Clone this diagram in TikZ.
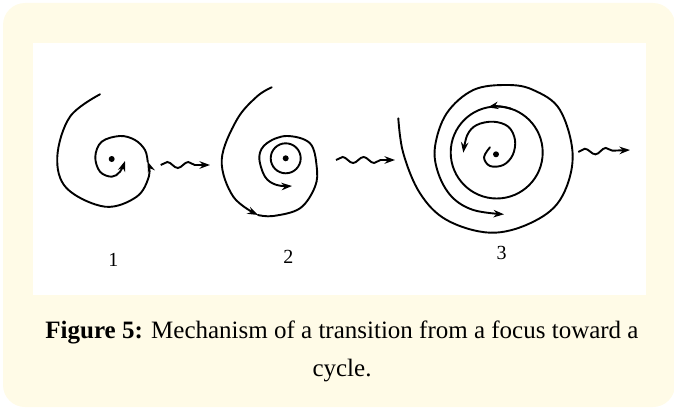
\documentclass[tikz,border=0pt]{standalone}
\usepackage{fontspec}
\setmainfont{Liberation Serif}
\usetikzlibrary{arrows.meta,decorations.pathmorphing,positioning}
\definecolor{panelcream}{RGB}{255,251,231}

\begin{document}
\begin{tikzpicture}[x=1pt, y=-1pt, spir/.style={line width=1.9pt, line cap=round}, flow/.style={spir, -{Stealth[length=10.5pt, width=7.5pt]}}, wavy/.style={line width=1.9pt, -{Stealth[length=10.5pt, width=7.5pt]}, decorate, decoration={snake, amplitude=3pt, segment length=21pt, post length=12pt}}, fpoint/.style={circle, fill=black, inner sep=0pt, minimum size=6pt}, lab/.style={font=\fontsize{20}{24}\selectfont}, caption/.style={align=center, font=\fontsize{25}{38}\selectfont}
]
  \useasboundingbox (0,0) rectangle (674,412);
  \fill[panelcream, rounded corners=22pt] (3,3) rectangle (675,407);
  \fill[white] (33,43) rectangle (646,295);

  % panel 1
  \node[fpoint] (f1) at (111.7,159) {};
  \draw[flow] plot[smooth, tension=0.6] coordinates {(100,94.3) (70,116.7) (57.3,156.7) (66.7,188.3) (105,206.7) (136.7,196.7) (149,176) (147.7,161.7)};
  \draw[flow] plot[smooth, tension=0.6] coordinates {(147.7,161.7) (145,150) (135,140) (120,136) (101.7,141.7) (95.3,156.7) (100,171.7) (111.7,176.7) (120,171.7) (125,161)};
  \node[lab] (l1) at (113.3,260) {1};

  % panel 2
  \node[fpoint] (f2) at (285.7,158.3) {};
  \draw[spir] (f2) circle[radius=15];
  \draw[flow] plot[smooth, tension=0.6] coordinates {(271.7,87.3) (256.7,96.7) (236.7,120) (221.7,160) (233.3,196.7) (258,215)};
  \draw[flow] plot[smooth, tension=0.6] coordinates {(258,215) (273.3,216) (300,208.3) (315,186.7) (316.7,166.7) (310,143.3) (286.7,136) (266.7,143.3) (259.3,156.7) (265,176.7) (276.7,185) (292,186)};
  \node[lab] (l2) at (288.3,256.7) {2};

  % panel 3
  \node[fpoint] (f3) at (496,154.3) {};
  \coordinate (c3) at (496.7,152.5);
  \draw[spir] (c3) circle[radius=46];
  \draw[flow] (c3) ++(-72:46) arc[start angle=-72, end angle=-101, radius=46];
  \draw[flow] plot[smooth, tension=0.6] coordinates {(398.3,118.3) (403.3,153.3) (420,193.3) (446.7,220) (490,232.7) (530,223.3) (560,200) (572.7,156.7) (560,110) (533.3,90) (506.7,85) (473.3,90) (446.7,113.3) (435,146.7) (438.3,173.3) (451.7,196.7) (473.3,210) (504,214.3)};
  \draw[flow] plot[smooth, tension=0.6] coordinates {(490,147.3) (484,157.3) (490,166) (503.3,165) (512.7,155) (515,140) (508.3,126.7) (493.3,121.7) (476.7,125) (467.3,135) (463.3,152.7)};
  \node[lab] (l3) at (501.7,253.3) {3};

  % transitions
  \coordinate (w1a) at (160.7,165);
  \coordinate (w1b) at (210,165);
  \coordinate (w2a) at (336,160);
  \coordinate (w2b) at (395,160);
  \coordinate (w3a) at (578.3,152);
  \coordinate (w3b) at (630,150);
  \draw[wavy] (w1a) -- (w1b);
  \draw[wavy] (w2a) -- (w2b);
  \draw[wavy] (w3a) -- (w3b);

  \node[caption] (cap) at (342,351) {\textbf{Figure 5:} Mechanism of a transition from a focus toward a\\cycle.};
\end{tikzpicture}
\end{document}
